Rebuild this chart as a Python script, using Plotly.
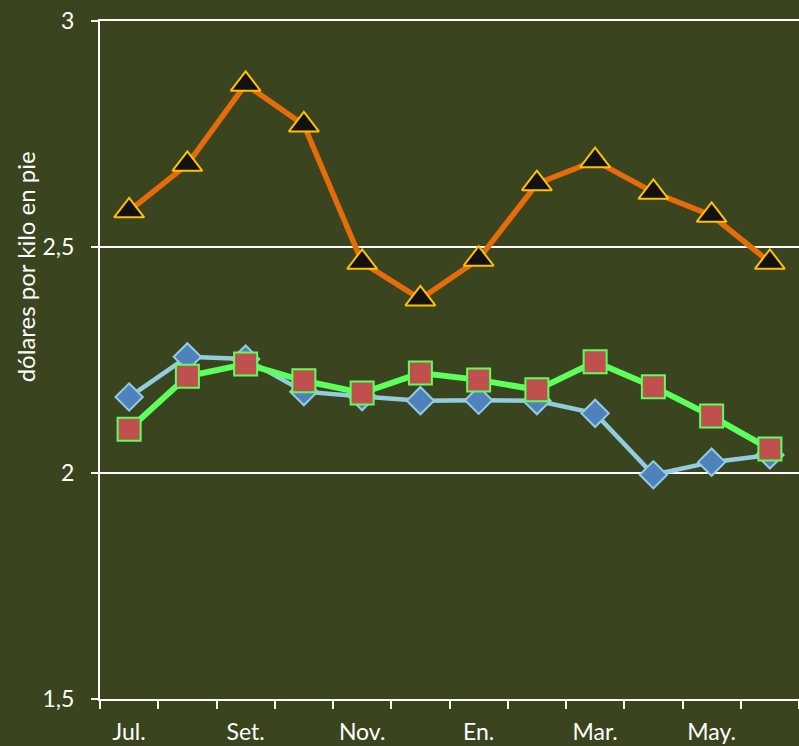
import plotly.graph_objects as go

months = ["Jul.", "Ago.", "Set.", "Oct.", "Nov.", "Dic.", "En.", "Feb.", "Mar.", "Abr.", "May.", "Jun."]
serie_triangulo = [2.580, 2.683, 2.860, 2.770, 2.466, 2.385, 2.473, 2.640, 2.691, 2.621, 2.570, 2.466]
serie_cuadrado = [2.097, 2.214, 2.241, 2.204, 2.177, 2.221, 2.206, 2.184, 2.246, 2.191, 2.126, 2.053]
serie_rombo = [2.168, 2.257, 2.252, 2.180, 2.169, 2.160, 2.161, 2.160, 2.132, 1.996, 2.024, 2.040]
y_ticks = [1.5, 2, 2.5, 3]
y_ticktext = ["1,5", "2", "2,5", "3"]
y_title = "dólares por kilo en pie"

x = list(range(len(months)))
BG = "#3a4520"
FONT = "Lato"

fig = go.Figure()
fig.add_trace(go.Scatter(
    x=x, y=serie_rombo, mode="lines+markers",
    line=dict(color="#93cddd", width=4.5),
    marker=dict(symbol="diamond", size=21, color="#4f81bd",
                line=dict(color="#93cddd", width=2)),
    showlegend=False, cliponaxis=False, hoverinfo="skip"))
fig.add_trace(go.Scatter(
    x=x, y=serie_cuadrado, mode="lines+markers",
    line=dict(color="#5cff5c", width=6),
    marker=dict(symbol="square", size=23, color="#c0504d",
                line=dict(color="#5cff5c", width=2)),
    showlegend=False, cliponaxis=False, hoverinfo="skip"))
fig.add_trace(go.Scatter(
    x=x, y=serie_triangulo, mode="lines+markers",
    line=dict(color="#e46c0a", width=5.5),
    marker=dict(symbol="triangle-up", size=26, color="#111111",
                line=dict(color="#ffc000", width=2)),
    showlegend=False, cliponaxis=False, hoverinfo="skip"))

fig.update_layout(
    width=799, height=746,
    margin=dict(l=100, r=0, t=21, b=47, autoexpand=False),
    paper_bgcolor=BG, plot_bgcolor=BG,
    font=dict(family=FONT, color="white", size=23),
    xaxis=dict(
        range=[-0.5, len(months) - 0.5],
        tickvals=x[::2], ticktext=months[::2],
        ticks="", showgrid=False, zeroline=False, automargin=False,
        showline=True, mirror=True, linecolor="white", linewidth=2,
        tickfont=dict(family=FONT, size=23, color="white"),
        ticklabelstandoff=11,
        minor=dict(tickvals=[i - 0.5 for i in range(len(months) + 1)],
                   ticks="outside", ticklen=8, tickcolor="white", tickwidth=2,
                   showgrid=False),
    ),
    yaxis=dict(
        range=[1.5, 3], automargin=False,
        tickvals=y_ticks, ticktext=y_ticktext,
        ticks="outside", ticklen=7, tickcolor="white", tickwidth=2,
        showgrid=True, gridcolor="white", gridwidth=2,
        zeroline=False, showline=True, linecolor="white", linewidth=2,
        tickfont=dict(family=FONT, size=23, color="white"),
        ticklabelstandoff=12,
    ),
    annotations=[dict(
        text=y_title, xref="paper", yref="paper",
        x=-0.107, y=0.637, xanchor="center", yanchor="middle",
        textangle=-90, showarrow=False,
        font=dict(family=FONT, size=24, color="white"),
    )],
)

fig.write_html(
    "out.html",
    config={"displayModeBar": False},
    post_script=(
        "document.body.style.margin='0';"
        "document.body.style.padding='0';"
        "document.body.style.overflow='hidden';"
        "document.body.style.background='" + BG + "';"
    ),
)
